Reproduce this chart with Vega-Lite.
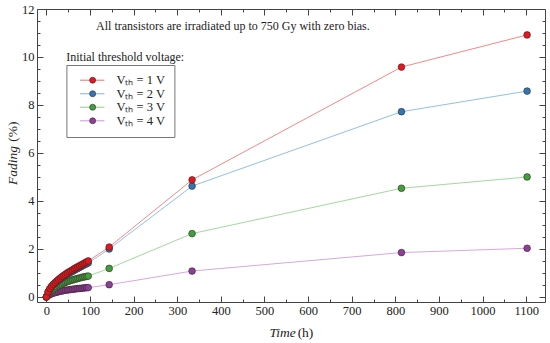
{
  "$schema": "https://vega.github.io/schema/vega-lite/v6.json",
  "width": 508,
  "height": 293,
  "autosize": {"type": "none"},
  "padding": {"left": 37, "top": 9, "right": 5, "bottom": 41},
  "background": "white",
  "config": {
    "view": {"stroke": "#444", "strokeWidth": 1},
    "font": "Liberation Serif",
    "axis": {"grid": false, "domain": false, "tickColor": "#444", "labelColor": "#222", "titleColor": "#222", "labelFont": "Liberation Serif", "titleFont": "Liberation Serif", "labelFontSize": 12.5, "titleFontSize": 13.5, "titleFontWeight": "normal"},
    "legend": {"labelFont": "Liberation Serif"}
  },
  "datasets": {
    "fade": [
      {"s": "4", "t": 0, "f": 0}, {"s": "4", "t": 4, "f": 0.06}, {"s": "4", "t": 8, "f": 0.1}, {"s": "4", "t": 12, "f": 0.13}, {"s": "4", "t": 16, "f": 0.16}, {"s": "4", "t": 20, "f": 0.18}, {"s": "4", "t": 24, "f": 0.2}, {"s": "4", "t": 28, "f": 0.22}, {"s": "4", "t": 32, "f": 0.24}, {"s": "4", "t": 36, "f": 0.25}, {"s": "4", "t": 40, "f": 0.27}, {"s": "4", "t": 44, "f": 0.28}, {"s": "4", "t": 48, "f": 0.29}, {"s": "4", "t": 52, "f": 0.3}, {"s": "4", "t": 56, "f": 0.31}, {"s": "4", "t": 60, "f": 0.32}, {"s": "4", "t": 64, "f": 0.33}, {"s": "4", "t": 68, "f": 0.34}, {"s": "4", "t": 72, "f": 0.35}, {"s": "4", "t": 76, "f": 0.355}, {"s": "4", "t": 80, "f": 0.36}, {"s": "4", "t": 84, "f": 0.37}, {"s": "4", "t": 88, "f": 0.38}, {"s": "4", "t": 92, "f": 0.385}, {"s": "4", "t": 96, "f": 0.39}, {"s": "4", "t": 144, "f": 0.51}, {"s": "4", "t": 334, "f": 1.08}, {"s": "4", "t": 814, "f": 1.85}, {"s": "4", "t": 1102, "f": 2.03},
      {"s": "3", "t": 0, "f": 0}, {"s": "3", "t": 4, "f": 0.12}, {"s": "3", "t": 8, "f": 0.2}, {"s": "3", "t": 12, "f": 0.27}, {"s": "3", "t": 16, "f": 0.33}, {"s": "3", "t": 20, "f": 0.38}, {"s": "3", "t": 24, "f": 0.43}, {"s": "3", "t": 28, "f": 0.47}, {"s": "3", "t": 32, "f": 0.51}, {"s": "3", "t": 36, "f": 0.54}, {"s": "3", "t": 40, "f": 0.58}, {"s": "3", "t": 44, "f": 0.61}, {"s": "3", "t": 48, "f": 0.64}, {"s": "3", "t": 52, "f": 0.66}, {"s": "3", "t": 56, "f": 0.69}, {"s": "3", "t": 60, "f": 0.71}, {"s": "3", "t": 64, "f": 0.73}, {"s": "3", "t": 68, "f": 0.75}, {"s": "3", "t": 72, "f": 0.77}, {"s": "3", "t": 76, "f": 0.79}, {"s": "3", "t": 80, "f": 0.81}, {"s": "3", "t": 84, "f": 0.83}, {"s": "3", "t": 88, "f": 0.84}, {"s": "3", "t": 92, "f": 0.86}, {"s": "3", "t": 96, "f": 0.87}, {"s": "3", "t": 144, "f": 1.19}, {"s": "3", "t": 334, "f": 2.64}, {"s": "3", "t": 814, "f": 4.53}, {"s": "3", "t": 1102, "f": 5.0},
      {"s": "2", "t": 0, "f": 0}, {"s": "2", "t": 4, "f": 0.2}, {"s": "2", "t": 8, "f": 0.32}, {"s": "2", "t": 12, "f": 0.42}, {"s": "2", "t": 16, "f": 0.5}, {"s": "2", "t": 20, "f": 0.57}, {"s": "2", "t": 24, "f": 0.63}, {"s": "2", "t": 28, "f": 0.69}, {"s": "2", "t": 32, "f": 0.75}, {"s": "2", "t": 36, "f": 0.8}, {"s": "2", "t": 40, "f": 0.85}, {"s": "2", "t": 44, "f": 0.9}, {"s": "2", "t": 48, "f": 0.95}, {"s": "2", "t": 52, "f": 0.99}, {"s": "2", "t": 56, "f": 1.03}, {"s": "2", "t": 60, "f": 1.07}, {"s": "2", "t": 64, "f": 1.11}, {"s": "2", "t": 68, "f": 1.15}, {"s": "2", "t": 72, "f": 1.19}, {"s": "2", "t": 76, "f": 1.23}, {"s": "2", "t": 80, "f": 1.27}, {"s": "2", "t": 84, "f": 1.31}, {"s": "2", "t": 88, "f": 1.35}, {"s": "2", "t": 92, "f": 1.38}, {"s": "2", "t": 96, "f": 1.42}, {"s": "2", "t": 144, "f": 2.0}, {"s": "2", "t": 334, "f": 4.62}, {"s": "2", "t": 814, "f": 7.72}, {"s": "2", "t": 1102, "f": 8.58},
      {"s": "1", "t": 0, "f": 0}, {"s": "1", "t": 4, "f": 0.22}, {"s": "1", "t": 8, "f": 0.35}, {"s": "1", "t": 12, "f": 0.45}, {"s": "1", "t": 16, "f": 0.53}, {"s": "1", "t": 20, "f": 0.6}, {"s": "1", "t": 24, "f": 0.67}, {"s": "1", "t": 28, "f": 0.73}, {"s": "1", "t": 32, "f": 0.79}, {"s": "1", "t": 36, "f": 0.85}, {"s": "1", "t": 40, "f": 0.9}, {"s": "1", "t": 44, "f": 0.95}, {"s": "1", "t": 48, "f": 1.0}, {"s": "1", "t": 52, "f": 1.05}, {"s": "1", "t": 56, "f": 1.09}, {"s": "1", "t": 60, "f": 1.13}, {"s": "1", "t": 64, "f": 1.18}, {"s": "1", "t": 68, "f": 1.22}, {"s": "1", "t": 72, "f": 1.26}, {"s": "1", "t": 76, "f": 1.3}, {"s": "1", "t": 80, "f": 1.34}, {"s": "1", "t": 84, "f": 1.38}, {"s": "1", "t": 88, "f": 1.42}, {"s": "1", "t": 92, "f": 1.46}, {"s": "1", "t": 96, "f": 1.5}, {"s": "1", "t": 144, "f": 2.08}, {"s": "1", "t": 334, "f": 4.88}, {"s": "1", "t": 814, "f": 9.58}, {"s": "1", "t": 1102, "f": 10.92}
    ],
    "notes": [
      {"label": "All transistors are irradiated up to 750 Gy with zero bias.", "t": 114, "f": 11.3, "kind": "a"},
      {"label": "Initial threshold voltage:", "t": 45.5, "f": 10.0, "kind": "b"}
    ]
  },
  "resolve": {"axis": {"x": "independent", "y": "independent"}},
  "layer": [
    {
      "data": {"name": "fade"},
      "mark": {"type": "line", "strokeWidth": 1},
      "encoding": {
        "x": {"field": "t", "type": "quantitative", "scale": {"domain": [-21.5, 1143], "nice": false, "zero": false},
          "axis": {"orient": "bottom", "values": [0, 100, 200, 300, 400, 500, 600, 700, 800, 900, 1000, 1100], "format": "d", "tickSize": -6, "labelPadding": 8, "labelFont": "Liberation Serif", "title": "Time", "titleFont": "Liberation Serif", "titleFontStyle": "italic", "titleX": 245, "titleY": 30, "titleBaseline": "middle", "titleAlign": "center", "titleAngle": 0}},
        "y": {"field": "f", "type": "quantitative", "scale": {"domain": [-0.21, 12], "nice": false, "zero": false},
          "axis": {"orient": "left", "values": [0, 2, 4, 6, 8, 10, 12], "format": "d", "tickSize": -6, "labelPadding": 9, "labelFont": "Liberation Serif", "title": "Fading", "titleFont": "Liberation Serif", "titleFontStyle": "italic", "titleX": -25, "titleY": 156, "titleBaseline": "middle", "titleAlign": "center", "titleAngle": -90}},
        "stroke": {"field": "s", "type": "nominal",
          "scale": {"range": ["#f28888", "#92bfe4", "#a2d99c", "#d9a6e2"]},
          "legend": {"orient": "none", "legendX": 29.4, "legendY": 56, "title": null, "symbolType": "M-3.5,0H3.5", "symbolSize": 49, "symbolStrokeWidth": 1.2, "symbolFillColor": "transparent", "symbolOffset": 10.5, "labelOffset": 18, "labelFontSize": 12.5, "labelFont": "Liberation Serif", "labelColor": "#222", "strokeColor": "#777", "padding": 9, "rowPadding": 0.5, "labelExpr": "'Vₜₕ = ' + datum.label + ' V\u00a0'", "zindex": 1}},
        "detail": {"field": "s"}
      }
    },
    {
      "data": {"name": "fade"},
      "mark": {"type": "point", "filled": true, "size": 45, "opacity": 1, "stroke": "#3a2020", "strokeWidth": 0.6},
      "encoding": {
        "x": {"field": "t", "type": "quantitative", "scale": {"domain": [-21.5, 1143], "nice": false, "zero": false},
          "axis": {"orient": "bottom", "values": [50, 150, 250, 350, 450, 550, 650, 750, 850, 950, 1050], "tickSize": -3, "labels": false, "title": "(h)", "titleFont": "Liberation Serif", "titleX": 268, "titleY": 30, "titleBaseline": "middle", "titleAlign": "center", "titleAngle": 0}},
        "y": {"field": "f", "type": "quantitative", "scale": {"domain": [-0.21, 12], "nice": false, "zero": false},
          "axis": {"orient": "left", "values": [0.5, 1, 1.5, 2.5, 3, 3.5, 4.5, 5, 5.5, 6.5, 7, 7.5, 8.5, 9, 9.5, 10.5, 11, 11.5], "tickSize": -3, "labels": false, "title": "(%)", "titleFont": "Liberation Serif", "titleX": -25, "titleY": 122, "titleBaseline": "middle", "titleAlign": "center", "titleAngle": -90}},
        "fill": {"field": "s", "type": "nominal",
          "scale": {"domain": ["1", "2", "3", "4"], "range": ["#e3171d", "#2f78b8", "#3da23c", "#8b3f9b"]},
          "legend": {"orient": "none", "legendX": 29.4, "legendY": 56, "title": null, "symbolType": "circle", "symbolSize": 36, "symbolStrokeColor": "#3a2020", "symbolStrokeWidth": 0.6, "symbolOpacity": 1, "symbolOffset": 11, "labelOffset": 18, "labelFontSize": 12.5, "labelOpacity": 0, "padding": 9, "rowPadding": 0.5, "labelExpr": "'Vₜₕ = ' + datum.label + ' V\u00a0'", "zindex": 2}}
      }
    },
    {
      "data": {"name": "fade"},
      "mark": {"type": "point", "opacity": 0},
      "encoding": {
        "x": {"field": "t", "type": "quantitative", "scale": {"domain": [-21.5, 1143], "nice": false, "zero": false},
          "axis": {"orient": "top", "values": [0, 100, 200, 300, 400, 500, 600, 700, 800, 900, 1000, 1100], "tickSize": -6, "labels": false, "title": null}},
        "y": {"field": "f", "type": "quantitative", "scale": {"domain": [-0.21, 12], "nice": false, "zero": false},
          "axis": {"orient": "right", "values": [0, 2, 4, 6, 8, 10, 12], "tickSize": -6, "labels": false, "title": null}}
      }
    },
    {
      "data": {"name": "fade"},
      "mark": {"type": "point", "opacity": 0},
      "encoding": {
        "x": {"field": "t", "type": "quantitative", "scale": {"domain": [-21.5, 1143], "nice": false, "zero": false},
          "axis": {"orient": "top", "values": [50, 150, 250, 350, 450, 550, 650, 750, 850, 950, 1050], "tickSize": -3, "labels": false, "title": null}},
        "y": {"field": "f", "type": "quantitative", "scale": {"domain": [-0.21, 12], "nice": false, "zero": false},
          "axis": {"orient": "right", "values": [0.5, 1, 1.5, 2.5, 3, 3.5, 4.5, 5, 5.5, 6.5, 7, 7.5, 8.5, 9, 9.5, 10.5, 11, 11.5], "tickSize": -3, "labels": false, "title": null}}
      }
    },
    {
      "data": {"name": "notes"},
      "mark": {"type": "text", "align": "left", "baseline": "middle", "fontSize": 12, "font": "Liberation Serif", "color": "#222"},
      "encoding": {
        "x": {"field": "t", "type": "quantitative", "scale": {"domain": [-21.5, 1143], "nice": false, "zero": false}, "axis": null},
        "y": {"field": "f", "type": "quantitative", "scale": {"domain": [-0.21, 12], "nice": false, "zero": false}, "axis": null},
        "text": {"field": "label"}
      }
    }
  ]
}
